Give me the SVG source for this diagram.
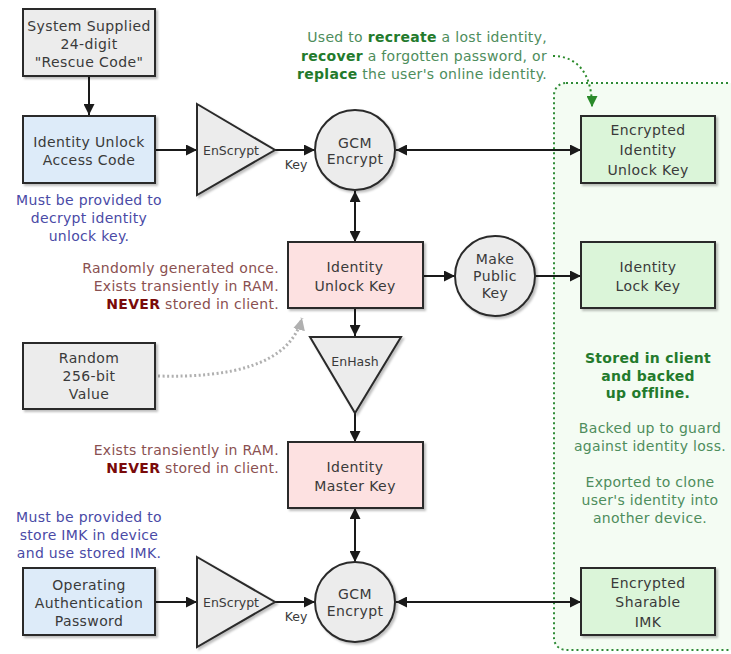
<svg xmlns="http://www.w3.org/2000/svg" width="731" height="654" viewBox="0 0 731 654">
<style>
text{font-family:"DejaVu Sans","Liberation Sans",sans-serif;}
.box{stroke:#2b2b2b;stroke-width:2;filter:url(#sh);}
.gray{fill:#ececec;}
.blue{fill:#ddebf9;}
.pink{fill:#fde1e1;}
.green{fill:#dbf5d9;}
.lbl{font-size:14px;letter-spacing:0.4px;fill:#3a3a3a;text-anchor:middle;}
.sm{font-size:12.5px;fill:#3a3a3a;text-anchor:middle;}
.note{font-size:14px;letter-spacing:0.3px;}
.blueT{fill:#4a4aa6;text-anchor:middle;}
.redT{fill:#8a5050;text-anchor:end;}
.redB{fill:#7a0a0a;font-weight:bold;}
.grnT{fill:#4e8d5c;text-anchor:middle;}
.grnB{fill:#237a2c;font-weight:bold;}
.conn{stroke:#1a1a1a;stroke-width:2;fill:none;}
</style>
<defs>
<filter id="sh" x="-10%" y="-10%" width="125%" height="125%"><feDropShadow dx="2" dy="2" stdDeviation="1.2" flood-color="#000" flood-opacity="0.25"/></filter>
<marker id="ah" viewBox="0 0 10 10" refX="10" refY="5" markerWidth="11" markerHeight="11" markerUnits="userSpaceOnUse" orient="auto-start-reverse"><path d="M0,0 L10,5 L0,10 z" fill="#1a1a1a"/></marker>
<marker id="ahg" viewBox="0 0 10 10" refX="10" refY="5" markerWidth="11" markerHeight="11" markerUnits="userSpaceOnUse" orient="auto"><path d="M0,0 L10,5 L0,10 z" fill="#2a8a2a"/></marker>
<marker id="ahgr" viewBox="0 0 10 10" refX="10" refY="5" markerWidth="12" markerHeight="12" markerUnits="userSpaceOnUse" orient="auto"><path d="M0,0 L10,5 L0,10 z" fill="#b0b0b0"/></marker>
</defs>
<rect width="731" height="654" fill="#ffffff"/>

<g id="storage-region">
<rect x="554" y="83" width="200" height="567" rx="12" ry="12" fill="#f4fcf3" stroke="#2d8a35" stroke-width="2" stroke-dasharray="2,3"/>
</g>

<g id="connectors">
<line class="conn" x1="89" y1="76" x2="89" y2="115" marker-end="url(#ah)"/>
<line class="conn" x1="155" y1="150" x2="197" y2="150" marker-end="url(#ah)"/>
<line class="conn" x1="275" y1="150" x2="315" y2="150" marker-end="url(#ah)"/>
<line class="conn" x1="396" y1="150" x2="581" y2="150" marker-start="url(#ah)" marker-end="url(#ah)"/>
<line class="conn" x1="355" y1="191" x2="355" y2="242" marker-start="url(#ah)" marker-end="url(#ah)"/>
<line class="conn" x1="423" y1="276" x2="455" y2="276" marker-end="url(#ah)"/>
<line class="conn" x1="535" y1="276" x2="581" y2="276" marker-end="url(#ah)"/>
<line class="conn" x1="355" y1="308" x2="355" y2="336" marker-end="url(#ah)"/>
<line class="conn" x1="355" y1="413" x2="355" y2="442" marker-end="url(#ah)"/>
<line class="conn" x1="355" y1="508" x2="355" y2="562" marker-start="url(#ah)" marker-end="url(#ah)"/>
<line class="conn" x1="155" y1="602" x2="197" y2="602" marker-end="url(#ah)"/>
<line class="conn" x1="275" y1="602" x2="315" y2="602" marker-end="url(#ah)"/>
<line class="conn" x1="396" y1="602" x2="581" y2="602" marker-start="url(#ah)" marker-end="url(#ah)"/>
<path d="M553,56 C576,56 592,72 592,107" fill="none" stroke="#2a8a2a" stroke-width="2" stroke-dasharray="2,3" marker-end="url(#ahg)"/>
<path d="M158,376 C230,378 290,365 302,318" fill="none" stroke="#b0b0b0" stroke-width="3" stroke-dasharray="2,2.5" marker-end="url(#ahgr)"/>
<text class="sm" x="296" y="169">Key</text>
<text class="sm" x="296" y="621">Key</text>
</g>

<g id="rescue-code">
<rect class="box gray" x="23" y="9" width="132" height="67"/>
<text class="lbl" x="89" y="31">System Supplied</text>
<text class="lbl" x="89" y="49">24-digit</text>
<text class="lbl" x="89" y="67">"Rescue Code"</text>
</g>

<g id="iuac">
<rect class="box blue" x="23" y="116" width="132" height="67"/>
<text class="lbl" x="89" y="147">Identity Unlock</text>
<text class="lbl" x="89" y="165">Access Code</text>
</g>

<g id="enscrypt1">
<polygon class="box gray" points="197,104 275,150 197,195"/>
<text class="sm" x="231" y="155">EnScrypt</text>
</g>

<g id="gcm1">
<circle class="box gray" cx="355" cy="150" r="40"/>
<text class="lbl" x="355" y="148">GCM</text>
<text class="lbl" x="355" y="164">Encrypt</text>
</g>

<g id="eiuk">
<rect class="box green" x="581" y="116" width="134" height="67"/>
<text class="lbl" x="648" y="135">Encrypted</text>
<text class="lbl" x="648" y="155">Identity</text>
<text class="lbl" x="648" y="175">Unlock Key</text>
</g>

<g id="iuk">
<rect class="box pink" x="288" y="242" width="135" height="66"/>
<text class="lbl" x="355" y="272">Identity</text>
<text class="lbl" x="355" y="291">Unlock Key</text>
</g>

<g id="make-public-key">
<circle class="box gray" cx="495" cy="276" r="40"/>
<text class="lbl" x="495" y="264">Make</text>
<text class="lbl" x="495" y="281">Public</text>
<text class="lbl" x="495" y="298">Key</text>
</g>

<g id="ilk">
<rect class="box green" x="581" y="242" width="134" height="66"/>
<text class="lbl" x="648" y="272">Identity</text>
<text class="lbl" x="648" y="291">Lock Key</text>
</g>

<g id="enhash">
<polygon class="box gray" points="310,337 401,337 355,413"/>
<text class="sm" x="355" y="366">EnHash</text>
</g>

<g id="random">
<rect class="box gray" x="23" y="343" width="132" height="66"/>
<text class="lbl" x="89" y="363">Random</text>
<text class="lbl" x="89" y="381">256-bit</text>
<text class="lbl" x="89" y="399">Value</text>
</g>

<g id="imk">
<rect class="box pink" x="288" y="442" width="135" height="66"/>
<text class="lbl" x="355" y="472">Identity</text>
<text class="lbl" x="355" y="491">Master Key</text>
</g>

<g id="oap">
<rect class="box blue" x="23" y="568" width="132" height="67"/>
<text class="lbl" x="89" y="590">Operating</text>
<text class="lbl" x="89" y="608">Authentication</text>
<text class="lbl" x="89" y="626">Password</text>
</g>

<g id="enscrypt2">
<polygon class="box gray" points="197,557 275,602 197,647"/>
<text class="sm" x="231" y="607">EnScrypt</text>
</g>

<g id="gcm2">
<circle class="box gray" cx="355" cy="602" r="40"/>
<text class="lbl" x="355" y="599">GCM</text>
<text class="lbl" x="355" y="616">Encrypt</text>
</g>

<g id="esimk">
<rect class="box green" x="581" y="568" width="134" height="67"/>
<text class="lbl" x="648" y="588">Encrypted</text>
<text class="lbl" x="648" y="607">Sharable</text>
<text class="lbl" x="648" y="627">IMK</text>
</g>

<g id="notes">
<text class="note grnT" style="text-anchor:end" x="547" y="42">Used to <tspan class="grnB">recreate</tspan> a lost identity,</text>
<text class="note grnT" style="text-anchor:end" x="547" y="61"><tspan class="grnB">recover</tspan> a forgotten password, or</text>
<text class="note grnT" style="text-anchor:end" x="547" y="79"><tspan class="grnB">replace</tspan> the user's online identity.</text>

<text class="note blueT" x="89" y="205">Must be provided to</text>
<text class="note blueT" x="89" y="223">decrypt identity</text>
<text class="note blueT" x="89" y="241">unlock key.</text>

<text class="note redT" x="279" y="273">Randomly generated once.</text>
<text class="note redT" x="279" y="291">Exists transiently in RAM.</text>
<text class="note redT" x="279" y="309"><tspan class="redB">NEVER</tspan> stored in client.</text>

<text class="note redT" x="279" y="455">Exists transiently in RAM.</text>
<text class="note redT" x="279" y="473"><tspan class="redB">NEVER</tspan> stored in client.</text>

<text class="note blueT" x="89" y="522">Must be provided to</text>
<text class="note blueT" x="89" y="540">store IMK in device</text>
<text class="note blueT" x="89" y="558">and use stored IMK.</text>

<text class="note grnT grnB" x="648" y="363">Stored in client</text>
<text class="note grnT grnB" x="648" y="381">and backed</text>
<text class="note grnT grnB" x="648" y="398">up offline.</text>

<text class="note grnT" x="650" y="433">Backed up to guard</text>
<text class="note grnT" x="650" y="451">against identity loss.</text>

<text class="note grnT" x="650" y="487">Exported to clone</text>
<text class="note grnT" x="650" y="505">user's identity into</text>
<text class="note grnT" x="650" y="523">another device.</text>
</g>
</svg>
